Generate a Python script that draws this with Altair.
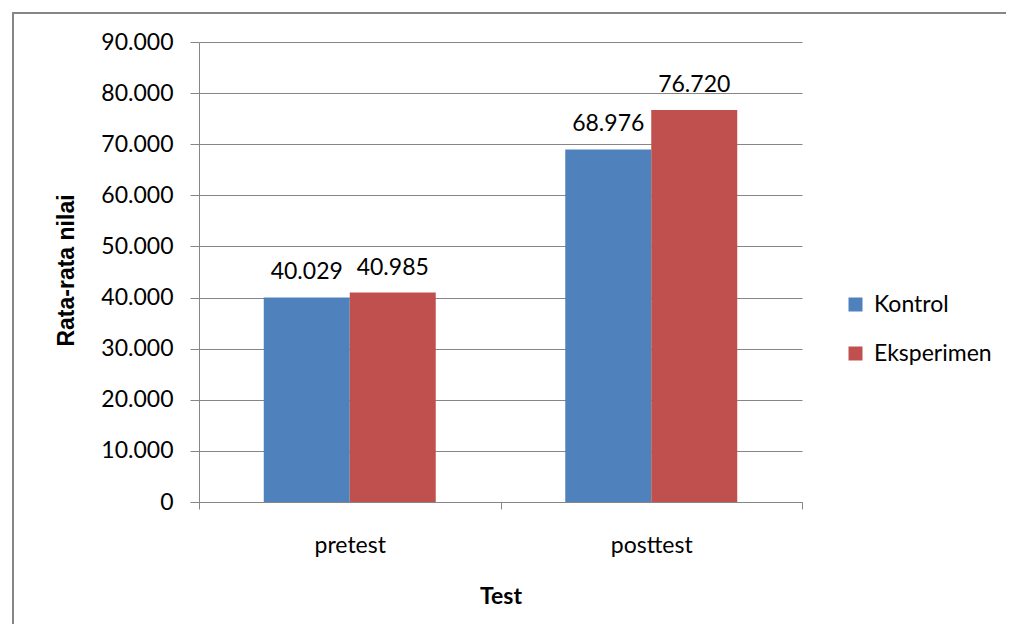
import altair as alt
import pandas as pd

tests = ["pretest", "posttest"]
series = ["Kontrol", "Eksperimen"]
kontrol = [40.029, 68.976]
eksperimen = [40.985, 76.720]
y_ticks = [0, 10, 20, 30, 40, 50, 60, 70, 80, 90]
colors = ["#4F81BD", "#C0504D"]

rows = []
for i, t in enumerate(tests):
    rows.append({"Test": t, "Kelompok": series[0], "Nilai": kontrol[i]})
    rows.append({"Test": t, "Kelompok": series[1], "Nilai": eksperimen[i]})
df = pd.DataFrame(rows)

GRAY = "#868686"
W, H = 603, 460

base = alt.Chart(df).encode(
    x=alt.X(
        "Test:N",
        sort=tests,
        scale=alt.Scale(paddingInner=0, paddingOuter=0),
        title="Test",
        axis=alt.Axis(
            labelAngle=0,
            tickBand="extent",
            tickSize=7,
            tickColor=GRAY,
            domainColor=GRAY,
            labelFont="Lato",
            labelFontSize=23,
            labelColor="#000000",
            labelPadding=25,
            titleFont="Lato",
            titleFontSize=23,
            titleFontWeight="bold",
            titleColor="#000000",
            titleY=101,
            titleBaseline="alphabetic",
            grid=False,
        ),
    ),
    xOffset=alt.XOffset(
        "Kelompok:N",
        sort=series,
        scale=alt.Scale(paddingInner=0, paddingOuter=0.753),
    ),
    y=alt.Y(
        "Nilai:Q",
        scale=alt.Scale(domain=[0, 90], nice=False),
        title="Rata-rata nilai",
        axis=alt.Axis(
            values=y_ticks,
            labelExpr="datum.value == 0 ? '0' : format(datum.value, '.3f')",
            grid=True,
            gridColor=GRAY,
            gridWidth=1,
            domainColor=GRAY,
            tickColor=GRAY,
            tickSize=9,
            labelPadding=17,
            labelFont="Lato",
            labelFontSize=23,
            labelColor="#000000",
            titleFont="Liberation Sans",
            titleFontSize=23,
            titleFontWeight="bold",
            titleColor="#000000",
            titleX=-126,
            titleY=228,
            titleBaseline="alphabetic",
        ),
    ),
)

bars = base.mark_bar().encode(
    color=alt.Color(
        "Kelompok:N",
        sort=series,
        scale=alt.Scale(domain=series, range=colors),
        legend=alt.Legend(
            title=None,
            orient="none",
            legendX=645,
            legendY=251,
            symbolType="square",
            symbolSize=196,
            symbolStrokeWidth=0,
            labelFont="Lato",
            labelFontSize=23,
            labelColor="#000000",
            labelOffset=7,
            rowPadding=25,
            padding=0,
        ),
    )
)

labels = base.mark_text(
    font="Lato", fontSize=23, dy=-18, baseline="alphabetic", align="center"
).encode(
    text=alt.Text("Nilai:Q", format=".3f"),
    color=alt.value("#000000"),
)

frame_df = pd.DataFrame({"k": [0]})
frame = alt.Chart(frame_df).mark_rect(
    filled=False, stroke=GRAY, strokeWidth=2
).encode(
    x=alt.value(-186), x2=alt.value(900), y=alt.value(-29), y2=alt.value(700)
)

chart = (
    alt.layer(frame, bars, labels)
    .properties(
        width=W,
        height=H,
        autosize=alt.AutoSizeParams(type="none"),
        padding={"left": 191, "top": 34, "right": 204, "bottom": 122},
        background="white",
    )
    .configure_view(strokeWidth=0)
)

chart.save("out.html", embed_options={"renderer": "svg", "actions": False})
